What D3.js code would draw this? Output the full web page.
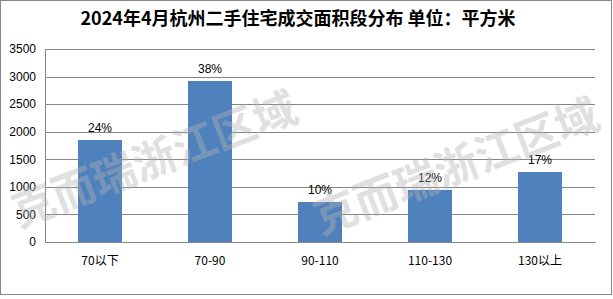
<!DOCTYPE html>
<html>
<head>
<meta charset="utf-8">
<script src="https://cdn.jsdelivr.net/npm/d3@7"></script>
<style>
  body { margin: 0; background: #fff; }
  svg { display: block; }
</style>
</head>
<body>
<div id="chart"></div>
<script>
const categories = ["70以下", "70-90", "90-110", "110-130", "130以上"];
const areaValues = [1850, 2920, 725, 945, 1270];
const shareLabels = ["24%", "38%", "10%", "12%", "17%"];
const yTicks = [0, 500, 1000, 1500, 2000, 2500, 3000, 3500];
const titleText = "2024年4月杭州二手住宅成交面积段分布 单位：平方米";
const watermarkText = "克而瑞浙江区域";

const W = 613, H = 299;
const margin = { top: 49, right: 18, bottom: 57, left: 45 };
const width = W - margin.left - margin.right;
const height = H - margin.top - margin.bottom;

const svg = d3.select("#chart")
    .append("svg")
    .attr("width", W)
    .attr("height", H);

// outer frame
svg.append("rect")
    .attr("x", 0.5).attr("y", 0.5)
    .attr("width", W - 2).attr("height", H - 5)
    .attr("fill", "#fff")
    .attr("stroke", "#878787");

svg.append("text")
    .attr("x", 298).attr("y", 25)
    .attr("text-anchor", "middle")
    .attr("font-family", "Noto Sans CJK SC")
    .attr("font-weight", "bold")
    .attr("font-size", 18)
    .attr("fill", "#000")
    .text(titleText);

const g = svg.append("g")
    .attr("transform", `translate(${margin.left}, ${margin.top})`);

const x = d3.scaleBand()
    .domain(categories)
    .range([0, width])
    .paddingInner(0.6)
    .paddingOuter(0.3);

const y = d3.scaleLinear()
    .domain([0, 3500])
    .range([height, 0]);

// grid
g.append("g")
    .selectAll("line")
    .data(yTicks.slice(1))
    .join("line")
    .attr("x1", 0).attr("x2", width)
    .attr("y1", d => Math.round(y(d)) + 0.5)
    .attr("y2", d => Math.round(y(d)) + 0.5)
    .attr("stroke", "#868686");

// bars
g.selectAll(".bar")
    .data(areaValues)
    .join("rect")
    .attr("class", "bar")
    .attr("x", (d, i) => x(categories[i]))
    .attr("y", d => y(d))
    .attr("width", x.bandwidth())
    .attr("height", d => height - y(d))
    .attr("fill", "#4f81bd");

// value labels
g.selectAll(".lbl")
    .data(areaValues)
    .join("text")
    .attr("class", "lbl")
    .attr("x", (d, i) => x(categories[i]) + x.bandwidth() / 2)
    .attr("y", d => y(d) - 8)
    .attr("text-anchor", "middle")
    .attr("font-family", "Liberation Sans")
    .attr("font-size", 12)
    .attr("fill", "#000")
    .text((d, i) => shareLabels[i]);

// watermark
[{ cx: 153, cy: 156 }, { cx: 455, cy: 163 }].forEach(p => {
    svg.append("text")
        .attr("transform", `translate(${p.cx}, ${p.cy}) rotate(-21)`)
        .attr("text-anchor", "middle")
        .attr("dominant-baseline", "central")
        .attr("font-family", "Noto Sans CJK SC")
        .attr("font-weight", "bold")
        .attr("font-size", 43)
        .attr("fill", "#b4b4b4")
        .attr("opacity", 0.4)
        .text(watermarkText);
});

// axes
const yAxis = g.append("g")
    .call(d3.axisLeft(y).tickValues(yTicks).tickFormat(d3.format("d")).tickSize(0).tickPadding(9));
yAxis.select(".domain").attr("stroke", "#868686");
yAxis.selectAll("text")
    .attr("font-family", "Liberation Sans")
    .attr("font-size", 12)
    .attr("fill", "#000");

const xAxis = g.append("g")
    .attr("transform", `translate(0, ${height})`)
    .call(d3.axisBottom(x).tickSize(0).tickPadding(14));
xAxis.select(".domain").attr("stroke", "#868686");
xAxis.selectAll("text")
    .attr("font-family", "Noto Sans CJK SC")
    .attr("font-size", 12)
    .attr("fill", "#000");
</script>
</body>
</html>
